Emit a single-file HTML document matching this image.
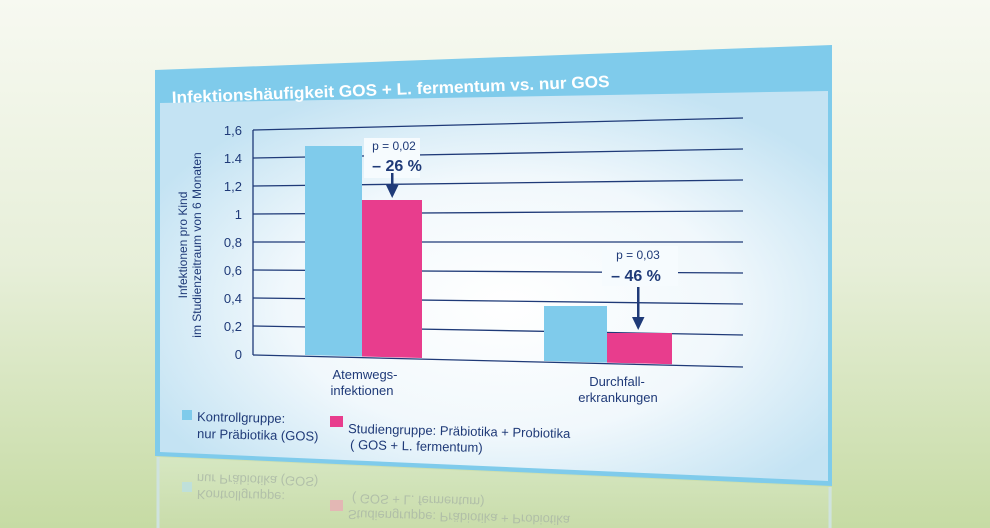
<!DOCTYPE html>
<html><head><meta charset="utf-8"><style>
html,body{margin:0;padding:0;width:990px;height:528px;overflow:hidden}
svg{display:block;font-family:"Liberation Sans",sans-serif}
</style></head><body>
<svg width="990" height="528" viewBox="0 0 990 528">
<defs>
<linearGradient id="bg" x1="0" y1="0" x2="0" y2="1">
<stop offset="0" stop-color="#f7f9f1"/><stop offset="0.5" stop-color="#e7efd9"/><stop offset="1" stop-color="#c6dba4"/>
</linearGradient>
<radialGradient id="pan" cx="0.52" cy="0.55" r="0.6">
<stop offset="0" stop-color="#ffffff"/><stop offset="0.55" stop-color="#f1f8fc"/><stop offset="1" stop-color="#c4e3f3"/>
</radialGradient>
<linearGradient id="refl" x1="0" y1="0" x2="0" y2="1">
<stop offset="0" stop-color="#d6e7c2"/><stop offset="1" stop-color="#c9dcaa"/>
</linearGradient>
</defs>
<rect width="990" height="528" fill="url(#bg)"/>
<polygon points="157,457 832,487 832,528 157,528" fill="url(#refl)"/>
<line x1="158" y1="457" x2="158" y2="528" stroke="#cfe3de" stroke-width="3"/>
<line x1="830" y1="487" x2="830" y2="528" stroke="#cfe3de" stroke-width="3"/>
<g fill="#aab7a6" font-size="13" opacity="0.8">
<text transform="translate(197,474) rotate(1.5) scale(1,-1)">nur Präbiotika (GOS)</text>
<text transform="translate(197,490) rotate(1.5) scale(1,-1)">Kontrollgruppe:</text>
<text transform="translate(352,494) rotate(1.5) scale(1,-1)">( GOS + L. fermentum)</text>
<text transform="translate(348,510) rotate(1.5) scale(1,-1)">Studiengruppe: Präbiotika + Probiotika</text>
</g>
<rect x="182" y="482" width="10" height="10" fill="#bfe0da"/>
<rect x="330" y="500" width="13" height="11" fill="#e3b7b4"/>
<polygon points="155,70 832,45 832,486 155,456" fill="#7fcbeb"/>
<polygon points="160,103 828,91 828,481 160,452" fill="url(#pan)"/>
<text transform="translate(172,103) rotate(-2.1)" fill="#fff" font-weight="bold" font-size="16.5" textLength="438" lengthAdjust="spacingAndGlyphs">Infektionshäufigkeit GOS + L. fermentum vs. nur GOS</text>
<g stroke="#1f3a78" stroke-width="1.3">
<line x1="253" y1="130" x2="743" y2="118"/>
<line x1="253" y1="158" x2="743" y2="149"/>
<line x1="253" y1="186" x2="743" y2="180"/>
<line x1="253" y1="214" x2="743" y2="211"/>
<line x1="253" y1="242" x2="743" y2="242"/>
<line x1="253" y1="270" x2="743" y2="273"/>
<line x1="253" y1="298" x2="743" y2="304"/>
<line x1="253" y1="326" x2="743" y2="335"/>
<line x1="253" y1="355" x2="743" y2="367"/>
<line x1="253" y1="130" x2="253" y2="355"/>
</g>
<g fill="#1f3a78" font-size="13" text-anchor="end">
<text x="242" y="135">1,6</text><text x="242" y="163">1.4</text><text x="242" y="191">1,2</text>
<text x="242" y="219">1</text><text x="242" y="247">0,8</text><text x="242" y="275">0,6</text>
<text x="242" y="303">0,4</text><text x="242" y="331">0,2</text><text x="242" y="359">0</text>
</g>
<g fill="#1f3a78" font-size="12" text-anchor="middle">
<text transform="translate(187,245) rotate(-90)">Infektionen pro Kind</text>
<text transform="translate(201,245) rotate(-90)">im Studienzeitraum von 6 Monaten</text>
</g>
<polygon points="305,146 362,146 362,356.5 305,355" fill="#7fcbeb"/>
<polygon points="362,200 422,200 422,358 362,356.5" fill="#e83d8d"/>
<polygon points="544,306 607,306 607,362.6 544,361" fill="#7fcbeb"/>
<polygon points="607,333 672,333 672,364.2 607,362.6" fill="#e83d8d"/>
<rect x="364" y="138" width="56" height="40" fill="#f6fbfe"/>
<rect x="602" y="246" width="76" height="40" fill="#f6fbfe"/>
<g fill="#1f3a78">
<text x="394" y="150" font-size="12" text-anchor="middle">p = 0,02</text>
<text x="397" y="171" font-size="16" font-weight="bold" text-anchor="middle">– 26 %</text>
<rect x="391" y="173" width="2.5" height="14"/>
<polygon points="386,185 398.5,185 392.2,198"/>
<text x="638" y="259" font-size="12" text-anchor="middle">p = 0,03</text>
<text x="636" y="281" font-size="16" font-weight="bold" text-anchor="middle">– 46 %</text>
<rect x="637" y="287" width="2.5" height="32"/>
<polygon points="632,317 644.5,317 638.2,330"/>
</g>
<g fill="#1f3a78" font-size="13" text-anchor="middle">
<text x="365" y="379">Atemwegs-</text><text x="362" y="395">infektionen</text>
<text x="617" y="386">Durchfall-</text><text x="618" y="402">erkrankungen</text>
</g>
<rect x="182" y="410" width="10" height="10" fill="#7fcbeb"/>
<rect x="330" y="416" width="13" height="11" fill="#e83d8d"/>
<g fill="#1f3a78" font-size="13">
<text transform="translate(197,421) rotate(1.3)">Kontrollgruppe:</text>
<text transform="translate(197,438) rotate(1.3)">nur Präbiotika (GOS)</text>
<text transform="translate(348,433) rotate(1.3)">Studiengruppe: Präbiotika + Probiotika</text>
<text transform="translate(350,449) rotate(1.3)">( GOS + L. fermentum)</text>
</g>
</svg>
</body></html>
